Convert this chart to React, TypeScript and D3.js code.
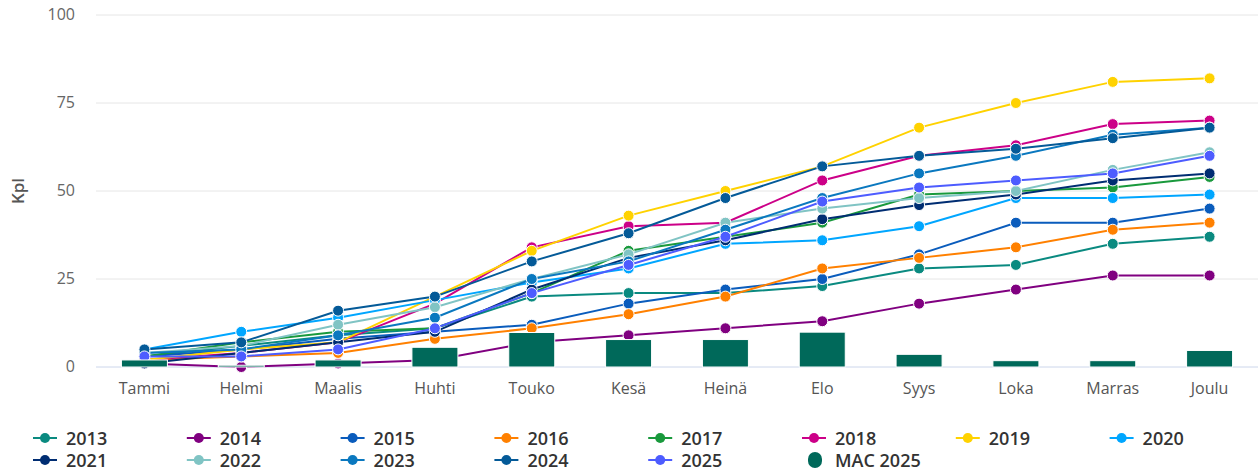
import React, { useEffect, useRef } from 'react';
import * as d3 from 'd3';

const months = ['Tammi', 'Helmi', 'Maalis', 'Huhti', 'Touko', 'Kesä', 'Heinä', 'Elo', 'Syys', 'Loka', 'Marras', 'Joulu'];

const s2013 = [3, 6, 9, 11, 20, 21, 21, 23, 28, 29, 35, 37];
const s2014 = [1, 0, 1, 2, 7, 9, 11, 13, 18, 22, 26, 26];
const s2015 = [3, 5, 8, 10, 12, 18, 22, 25, 32, 41, 41, 45];
const s2016 = [2, 3, 4, 8, 11, 15, 20, 28, 31, 34, 39, 41];
const s2017 = [3, 7, 10, 11, 21, 33, 37, 41, 49, 50, 51, 54];
const s2018 = [2, 4, 7, 18, 34, 40, 41, 53, 60, 63, 69, 70];
const s2019 = [2, 5, 7, 20, 33, 43, 50, 57, 68, 75, 81, 82];
const s2020 = [5, 10, 14, 19, 24, 28, 35, 36, 40, 48, 48, 49];
const s2021 = [1, 4, 7, 10, 22, 31, 36, 42, 46, 49, 53, 55];
const s2022 = [4, 6, 12, 17, 25, 32, 41, 45, 48, 50, 56, 61];
const s2023 = [4, 5, 9, 14, 25, 30, 39, 48, 55, 60, 66, 68];
const s2024 = [5, 7, 16, 20, 30, 38, 48, 57, 60, 62, 65, 68];
const s2025 = [3, 3, 5, 11, 21, 29, 37, 47, 51, 53, 55, 60];
const mac2025 = [2, 0.5, 2, 5.6, 9.8, 7.8, 7.8, 9.9, 3.6, 1.8, 1.8, 4.7];

const yTicks = [0, 25, 50, 75, 100];

const lineSeries = [
  { name: '2013', color: '#0a8a80', values: s2013 },
  { name: '2014', color: '#800080', values: s2014 },
  { name: '2015', color: '#0a5cbc', values: s2015 },
  { name: '2016', color: '#ff8000', values: s2016 },
  { name: '2017', color: '#19993c', values: s2017 },
  { name: '2018', color: '#cc0088', values: s2018 },
  { name: '2019', color: '#ffd200', values: s2019 },
  { name: '2020', color: '#00a6ff', values: s2020 },
  { name: '2021', color: '#002d72', values: s2021 },
  { name: '2022', color: '#80c4c4', values: s2022 },
  { name: '2023', color: '#0a78bf', values: s2023 },
  { name: '2024', color: '#045a98', values: s2024 },
  { name: '2025', color: '#4d5cff', values: s2025 },
];
const macColor = '#00695a';

const W = 1258;
const H = 474;

const App: React.FC = () => {
  const svgRef = useRef<SVGSVGElement>(null);

  useEffect(() => {
    if (!svgRef.current) return;
    const svg = d3.select(svgRef.current);
    svg.selectAll('*').remove();

    const font = '"Open Sans", "Noto Sans", sans-serif';
    const left = 96, right = 1258, top = 15, bottom = 367;

    const x = d3.scaleBand<string>().domain(months).range([left, right]);
    const y = d3.scaleLinear().domain([0, 100]).range([bottom, top]);

    // grid
    svg.append('g')
      .selectAll('line')
      .data(yTicks)
      .enter().append('line')
      .attr('x1', left).attr('x2', right)
      .attr('y1', d => y(d)).attr('y2', d => y(d))
      .attr('stroke', d => d === 0 ? '#ccd6eb' : '#e6e6e6')
      .attr('stroke-width', 1);

    svg.append('g')
      .selectAll('text')
      .data(yTicks)
      .enter().append('text')
      .attr('x', 75).attr('y', d => y(d) + 5)
      .attr('text-anchor', 'end')
      .attr('font-family', font).attr('font-size', 16)
      .attr('fill', '#666666')
      .text(d => d);

    svg.append('text')
      .attr('transform', `translate(24,${(top + bottom) / 2}) rotate(-90)`)
      .attr('text-anchor', 'middle')
      .attr('font-family', font).attr('font-size', 17).attr('font-weight', 600)
      .attr('fill', '#555555')
      .text('Kpl');

    svg.append('g')
      .selectAll('text')
      .data(months)
      .enter().append('text')
      .attr('x', d => (x(d) as number) + x.bandwidth() / 2)
      .attr('y', 394)
      .attr('text-anchor', 'middle')
      .attr('font-family', font).attr('font-size', 16)
      .attr('fill', '#555555')
      .text(d => d);

    const cx = (i: number) => (x(months[i]) as number) + x.bandwidth() / 2;
    const line = d3.line<number>().x((_, i) => cx(i)).y(d => y(d));

    lineSeries.forEach(s => {
      const g = svg.append('g');
      g.append('path')
        .datum(s.values)
        .attr('fill', 'none')
        .attr('stroke', s.color)
        .attr('stroke-width', 2)
        .attr('d', line);
      g.selectAll('circle')
        .data(s.values)
        .enter().append('circle')
        .attr('cx', (_, i) => cx(i))
        .attr('cy', d => y(d))
        .attr('r', 5.5)
        .attr('fill', s.color)
        .attr('stroke', '#ffffff')
        .attr('stroke-width', 1);
    });

    // MAC 2025 columns
    const barW = 46;
    svg.append('g')
      .selectAll('rect')
      .data(mac2025)
      .enter().append('rect')
      .attr('x', (_, i) => cx(i) - barW / 2)
      .attr('y', d => y(d))
      .attr('width', barW)
      .attr('height', d => bottom - y(d))
      .attr('fill', macColor)
      .attr('stroke', '#ffffff')
      .attr('stroke-width', 1);

    // legend
    const legendItems = [...lineSeries.map(s => ({ name: s.name, color: s.color, bar: false })),
      { name: 'MAC 2025', color: macColor, bar: true }];
    const colW = 153.8;
    legendItems.forEach((it, i) => {
      const col = i % 8, row = Math.floor(i / 8);
      const lx = 33 + col * colW;
      const ly = 438 + row * 22;
      const g = svg.append('g').attr('transform', `translate(${lx},${ly})`);
      if (it.bar) {
        g.append('rect')
          .attr('x', 6).attr('y', -8).attr('width', 14).attr('height', 16)
          .attr('rx', 7).attr('fill', it.color);
      } else {
        g.append('line')
          .attr('x1', 0).attr('x2', 24).attr('y1', 0).attr('y2', 0)
          .attr('stroke', it.color).attr('stroke-width', 2);
        g.append('circle').attr('cx', 12).attr('cy', 0).attr('r', 5).attr('fill', it.color);
      }
      g.append('text')
        .attr('x', 33).attr('y', 6.5)
        .attr('font-family', font).attr('font-size', 18).attr('font-weight', 600)
        .attr('fill', '#333333')
        .text(it.name);
    });
  }, []);

  return (
    <svg
      ref={svgRef}
      width={W}
      height={H}
      style={{ position: 'absolute', left: 0, top: 0, background: '#ffffff' }}
    />
  );
};

export default App;
